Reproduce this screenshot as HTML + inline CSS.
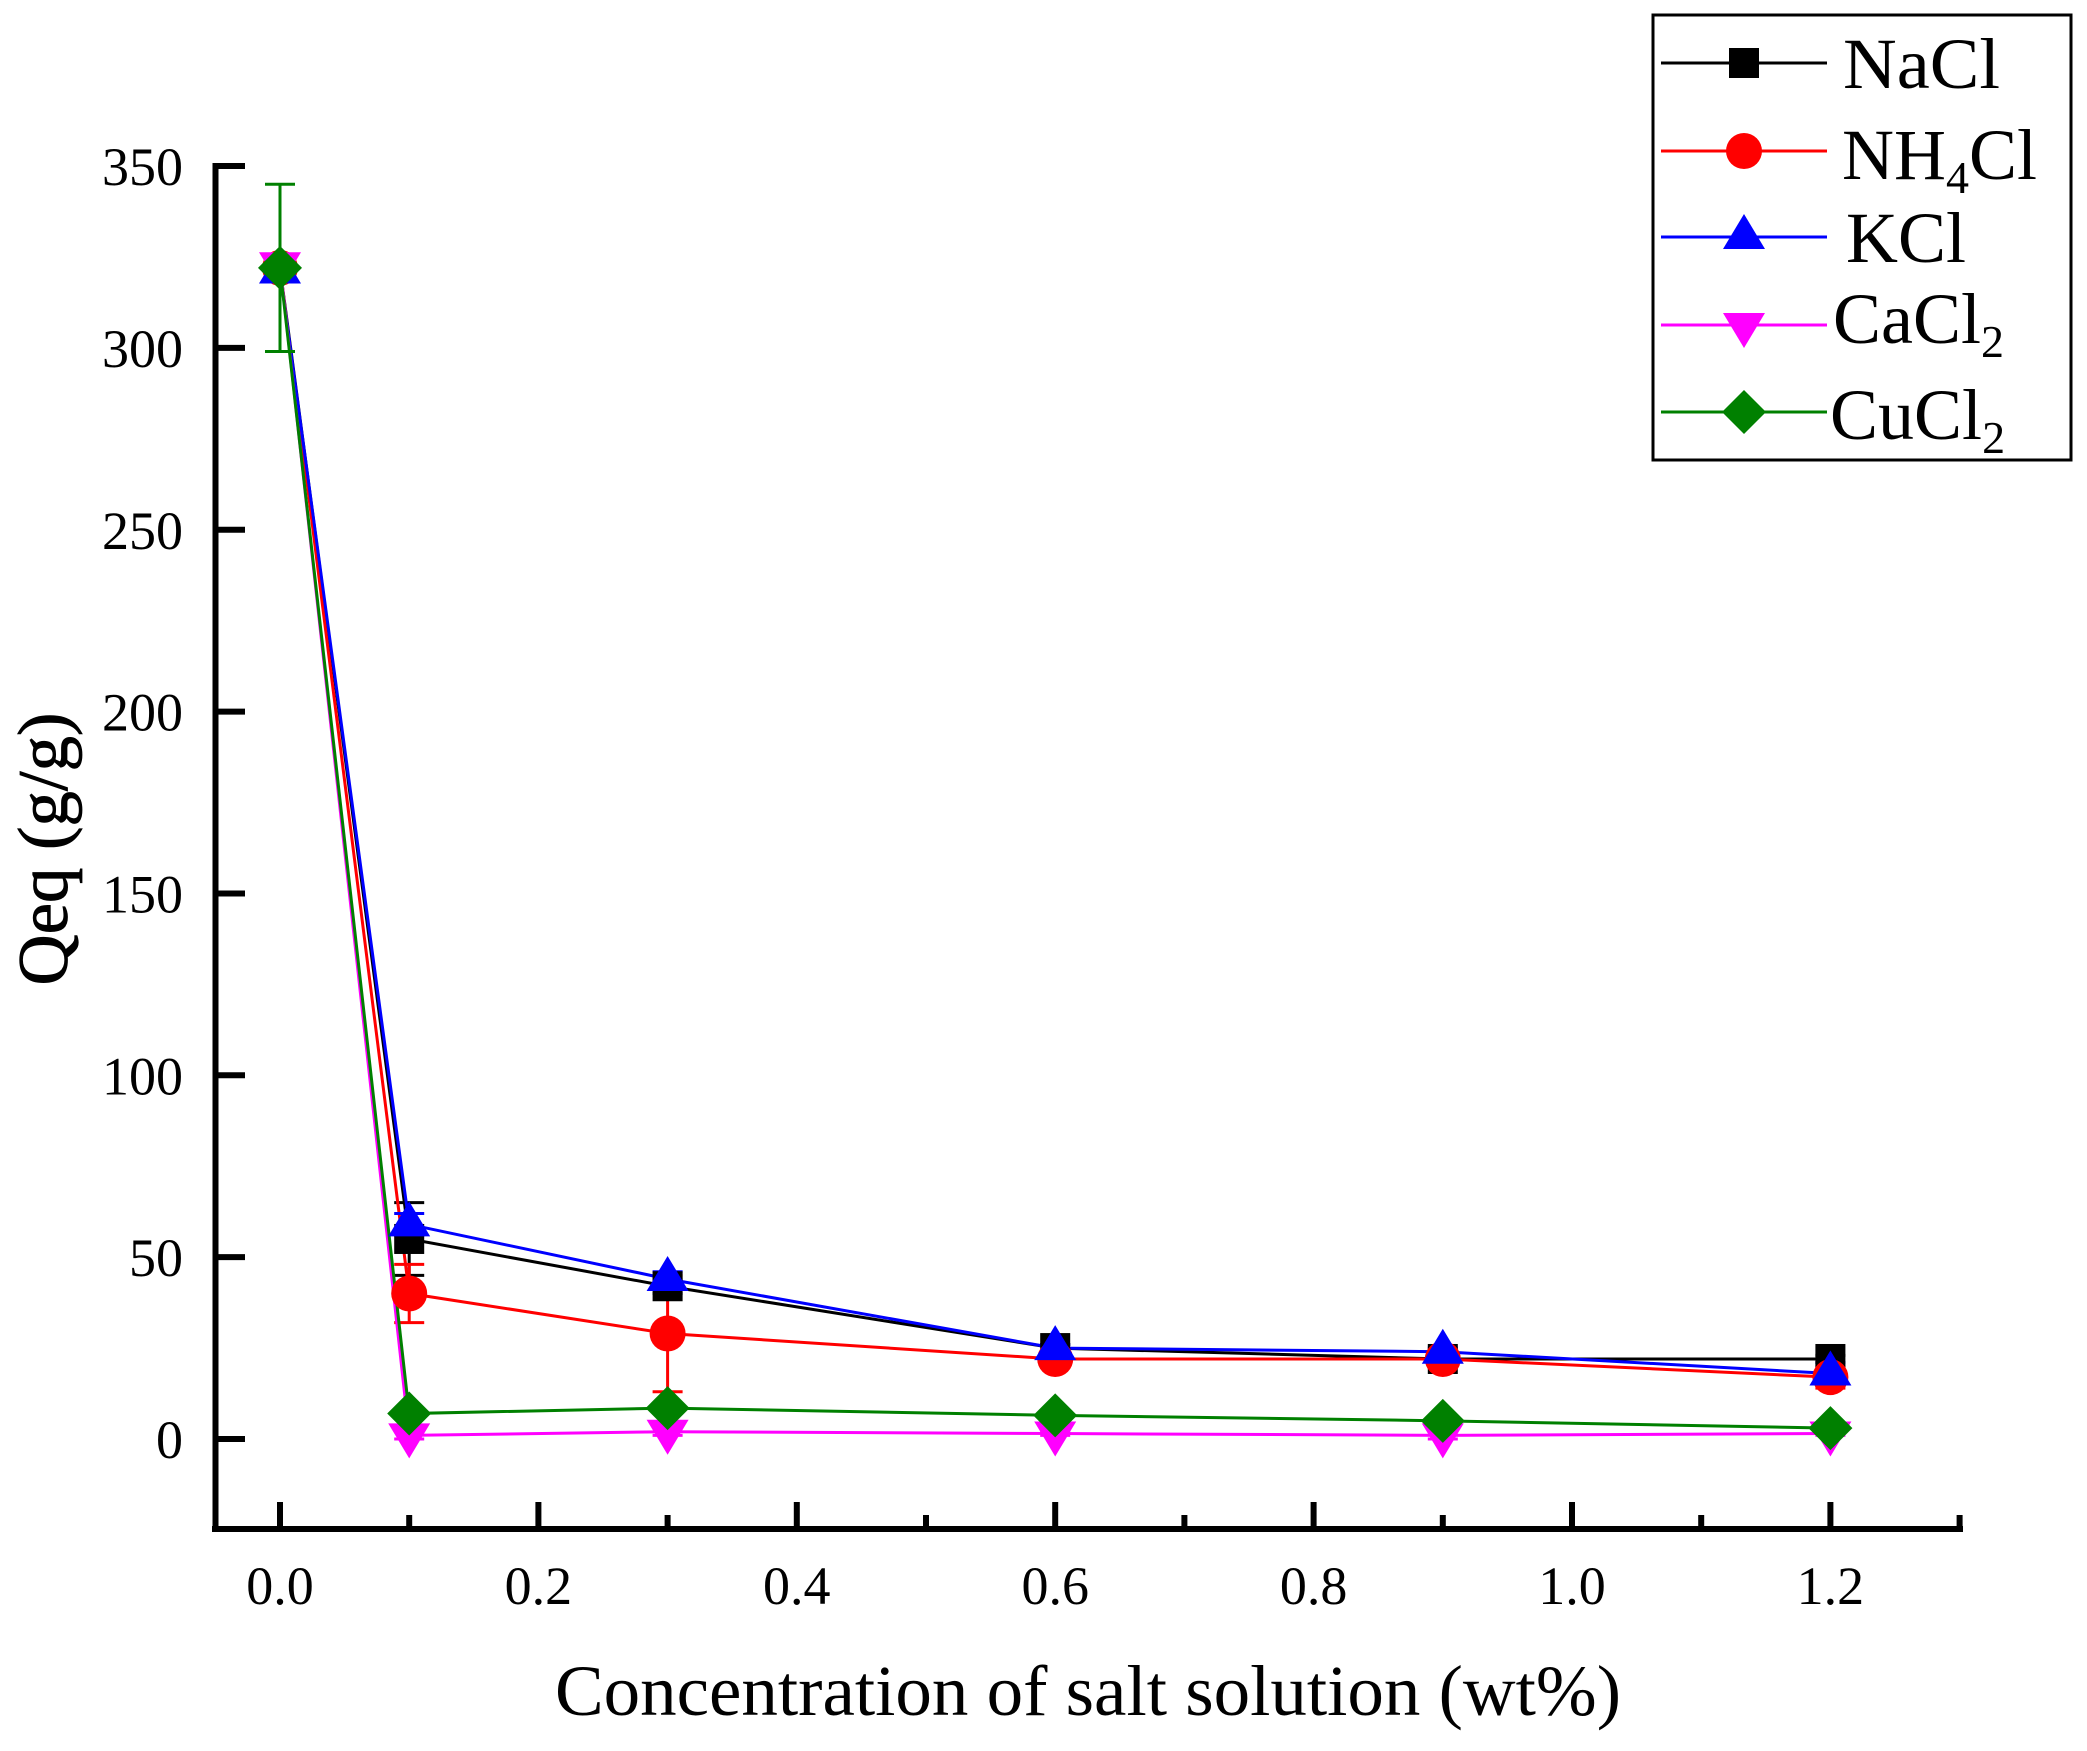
<!DOCTYPE html>
<html><head><meta charset="utf-8"><style>
html,body{margin:0;padding:0;background:#fff;}
svg{display:block;font-family:"Liberation Serif","Times New Roman",serif;}
</style></head><body>
<svg id="s" width="2087" height="1751" viewBox="0 0 2087 1751" xmlns="http://www.w3.org/2000/svg">
<rect width="2087" height="1751" fill="#fff"/>
<g id="g"></g>
<line x1="215.5" y1="163" x2="215.5" y2="1532" stroke="#000" stroke-width="6"/>
<line x1="212" y1="1529" x2="1963" y2="1529" stroke="#000" stroke-width="6"/>
<g id="ticks"></g>
<text x="1088" y="1715" font-size="72" text-anchor="middle" textLength="1066" lengthAdjust="spacingAndGlyphs">Concentration of salt solution (wt%)</text>
<text transform="translate(67,849) rotate(-90)" font-size="71" text-anchor="middle" textLength="273" lengthAdjust="spacingAndGlyphs" stroke="#000" stroke-width="0.8">Qeq (g/g)</text>
<rect x="1653" y="15" width="418" height="445" fill="#fff" stroke="#000" stroke-width="3"/>
<g id="leg"></g>
<g font-size="72">
<text x="1843" y="88" textLength="157" lengthAdjust="spacingAndGlyphs">NaCl</text>
<text x="1842" y="179">NH<tspan font-size="46" dy="14">4</tspan><tspan dy="-14">Cl</tspan></text>
<text x="1846" y="262">KCl</text>
<text x="1833" y="343">CaCl<tspan font-size="46" dy="14">2</tspan></text>
<text x="1830" y="439">CuCl<tspan font-size="46" dy="14">2</tspan></text>
</g>
</svg>
<script>
const NS="http://www.w3.org/2000/svg";
const X=v=>280+v*1292, Y=v=>1439-v*3.637;
function el(p,t,a){const e=document.createElementNS(NS,t);for(const k in a)e.setAttribute(k,a[k]);p.appendChild(e);return e;}
const tk=document.getElementById('ticks');
for(let i=0;i<=7;i++){const y=Y(i*50);el(tk,'line',{x1:218,y1:y,x2:245,y2:y,stroke:'#000','stroke-width':6});
 const t=el(tk,'text',{x:183,y:y+19,'font-size':54,'text-anchor':'end'});t.textContent=String(i*50);}
for(let i=0;i<=13;i++){const x=X(i*0.1);const major=i%2==0;
 el(tk,'line',{x1:x,y1:1529,x2:x,y2:major?1502:1515,stroke:'#000','stroke-width':6});
 if(major&&i<=12){const t=el(tk,'text',{x:x,y:1604,'font-size':54,'text-anchor':'middle'});t.textContent=(i/10).toFixed(1);}}
const xs=[0,0.1,0.3,0.6,0.9,1.2];
const S=[
 {c:'#000',m:'sq',d:[322,55,42,25,22,22],e:[[0,0],[45,65],[40,44],[24,26],[21,23],[21,23]]},
 {c:'#f00',m:'ci',d:[322,40,29,22,22,17],e:[[0,0],[32,48],[13,45],[21,23],[20,24],[14,20]]},
 {c:'#00f',m:'tu',d:[321,59,44,25,24,18],e:[[0,0],[56,62],[42,46],[24,26],[23,25],[16,21]]},
 {c:'#f0f',m:'td',d:[323,1,2,1.5,1,1.5],e:[[0,0],[0,2],[1,3],[1,2],[0,2],[1,2]]},
 {c:'#008000',m:'di',d:[322,7,8.5,6.5,5,3],e:[[299,345],[6,8],[8,9],[6,7],[4,6],[2,4]]}];
function mk(p,m,x,y,c){
 if(m=='sq')el(p,'rect',{x:x-15,y:y-15,width:30,height:30,fill:c});
 if(m=='ci')el(p,'circle',{cx:x,cy:y,r:18,fill:c});
 if(m=='tu')el(p,'polygon',{points:`${x},${y-23} ${x+21},${y+12} ${x-21},${y+12}`,fill:c});
 if(m=='td')el(p,'polygon',{points:`${x},${y+23} ${x+21},${y-12} ${x-21},${y-12}`,fill:c});
 if(m=='di')el(p,'polygon',{points:`${x},${y-22} ${x+22},${y} ${x},${y+22} ${x-22},${y}`,fill:c});}
const g=document.getElementById('g');
S.forEach(s=>{el(g,'polyline',{points:xs.map((x,i)=>X(x)+','+Y(s.d[i])).join(' '),fill:'none',stroke:s.c,'stroke-width':3});
 xs.forEach((x,i)=>{const [a,b]=s.e[i];if(a==b)return;const px=X(x);
  el(g,'line',{x1:px,y1:Y(a),x2:px,y2:Y(b),stroke:s.c,'stroke-width':3});
  el(g,'line',{x1:px-15,y1:Y(a),x2:px+15,y2:Y(a),stroke:s.c,'stroke-width':3});
  el(g,'line',{x1:px-15,y1:Y(b),x2:px+15,y2:Y(b),stroke:s.c,'stroke-width':3});});});
S.forEach(s=>xs.forEach((x,i)=>mk(g,s.m,X(x),Y(s.d[i]),s.c)));
const lg=document.getElementById('leg');const ly=[63,151,237,325,412];
S.forEach((s,i)=>{el(lg,'line',{x1:1661,y1:ly[i],x2:1827,y2:ly[i],stroke:s.c,'stroke-width':3});mk(lg,s.m,1744,ly[i],s.c);});
</script>
</body></html>
